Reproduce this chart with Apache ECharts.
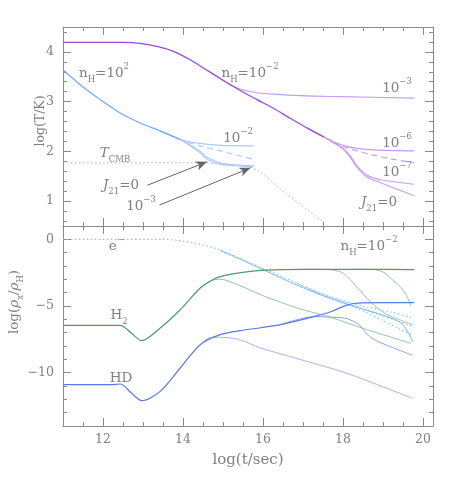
<!DOCTYPE html>
<html><head><meta charset="utf-8">
<script src="https://cdn.jsdelivr.net/npm/echarts@6/dist/echarts.min.js"></script>
<style>html,body{margin:0;padding:0;background:#fff}#c{width:457px;height:478px}</style>
</head><body><div id="c"></div>
<script>
// ---------- tick labels ----------
const xMajorTicks = [12, 14, 16, 18, 20];
const tMajorTicks = [1, 2, 3, 4];
const rMajorTicks = [0, -5, -10];

// ---------- top panel: log(T/K) ----------
// n_H = 1e-2 (violet)
const vMain = [[11,4.19],[12.5,4.19],[12.93,4.17],[13.4,4.1],[13.76,4.01],[14.18,3.84],[14.6,3.63],[15.02,3.42],[15.44,3.22],[15.85,3.04],[16.27,2.86],[16.69,2.66],[17.1,2.47],[17.52,2.29]];
const vJ3   = [[14.6,3.63],[15.02,3.42],[15.2,3.33],[15.44,3.25],[15.85,3.18],[16.27,3.15],[16.94,3.12],[17.94,3.1],[19.78,3.07]];
const vJ6   = [[17.1,2.47],[17.52,2.29],[17.8,2.18],[18.1,2.1],[18.36,2.06],[18.78,2.03],[19.78,2.01]];
const vDash = [[17.1,2.47],[17.52,2.29],[17.8,2.17],[18.1,2.07],[18.36,2.01],[18.78,1.92],[19.2,1.85],[19.78,1.77]];
const vJ7   = [[17.1,2.47],[17.52,2.29],[17.77,2.18],[18.02,2.05],[18.19,1.9],[18.36,1.7],[18.61,1.52],[18.94,1.43],[19.78,1.34]];
const vJ0   = [[17.1,2.47],[17.52,2.29],[17.77,2.17],[18.02,2.03],[18.19,1.87],[18.36,1.67],[18.61,1.48],[18.94,1.37],[19.36,1.24],[19.78,1.11]];
// n_H = 1e2 (blue)
const bMain = [[11,3.64],[11.43,3.34],[11.93,3.04],[12.43,2.77],[12.93,2.57],[13.43,2.41],[13.93,2.24]];
const bJ2   = [[13.43,2.41],[13.93,2.24],[14.43,2.16],[14.93,2.12],[15.77,2.11]];
const bDash = [[13.43,2.41],[13.93,2.24],[14.43,2.11],[14.93,2.01],[15.77,1.84]];
const bJ0   = [[13.43,2.41],[13.93,2.24],[14.1,2.15],[14.43,1.97],[14.6,1.84],[14.93,1.74],[15.3,1.71],[15.77,1.69]];
const bJ3   = [[13.43,2.41],[13.93,2.24],[14.1,2.17],[14.43,2.0],[14.6,1.88],[14.93,1.77],[15.3,1.73],[15.77,1.71]];
const tCMB  = [[11,1.77],[14.5,1.77],[15.0,1.74],[15.77,1.66],[16.5,1.2],[17.48,0.6]];
const arrows = [[[13.11,1.32],[14.6,1.79]],[[13.41,0.92],[15.69,1.67]]];

// ---------- bottom panel: log(rho_x/rho_H) ----------
const eDot1 = [[11,0],[13.5,0],[13.9,-0.1],[14.27,-0.28],[14.6,-0.5],[14.93,-0.8],[15.44,-1.45],[16.02,-2.2],[16.86,-3.3],[17.69,-4.3],[18.5,-5.0],[19.2,-5.45],[19.75,-5.9]];
const eDot2 = [[16.86,-3.3],[17.2,-3.8],[18,-4.65],[18.8,-5.55],[19.3,-6.05],[19.75,-6.55]];
const eDot3 = [[17.2,-3.8],[17.6,-4.3],[18.3,-5.1],[19.0,-6.1],[19.4,-6.7],[19.75,-7.2]];
const eSolid = [[14.93,-0.85],[15.44,-1.5],[16.02,-2.3],[16.86,-3.45],[17.69,-4.45],[18.2,-4.95],[18.8,-5.5],[19.2,-5.9],[19.5,-6.4],[19.75,-7.7]];
const h2Main = [[11,-6.45],[12.43,-6.45],[12.7,-7.0],[12.97,-7.6],[13.43,-6.65],[13.93,-5.28],[14.43,-3.65],[14.7,-3.1],[14.93,-2.8],[15.44,-2.5],[15.94,-2.33],[16.5,-2.27],[17.5,-2.25],[18.5,-2.25],[19.78,-2.27]];
const h2Low  = [[14.43,-3.65],[14.7,-3.1],[14.95,-3.0],[15.2,-3.2],[15.6,-3.7],[16.02,-4.25],[16.86,-5.15],[17.69,-5.85],[18.52,-6.7],[19.7,-7.8]];
const h2DropA = [[17.0,-2.25],[17.5,-2.25],[17.9,-2.4],[18.1,-2.78],[18.52,-4.15],[18.78,-4.95],[19.11,-5.65],[19.74,-6.4]];
const h2DropB = [[18.2,-2.25],[18.7,-2.25],[19.0,-2.45],[19.19,-2.9],[19.53,-3.9],[19.7,-5.0]];
const hdMain = [[11,-10.9],[12.2,-10.9],[12.43,-10.85],[12.7,-11.5],[12.97,-12.1],[13.43,-11.4],[13.93,-9.65],[14.43,-7.9],[14.93,-7.15],[15.44,-6.85],[15.94,-6.63],[16.44,-6.4],[17.27,-5.8],[17.69,-5.43],[18.1,-4.93],[18.36,-4.78],[19.0,-4.75],[19.78,-4.75]];
const hdDrop = [[16.44,-6.4],[17.27,-5.8],[17.8,-5.85],[18.1,-5.95],[18.4,-6.4],[18.6,-7.1],[18.8,-7.55],[19.1,-7.95],[19.74,-8.7]];
const hdLow  = [[14.43,-7.9],[14.7,-7.35],[15.0,-7.35],[15.44,-7.55],[15.94,-8.15],[16.86,-8.95],[18.1,-10.05],[19.74,-11.93]];

// ---------- styling ----------
const XMIN = 11, XMAX = 20.25;
const FRAME = '#8a8a8a';
const TXT = '#808080';
const FONT = 'DejaVu Serif';
function range(a, b, s) { const r = []; for (let v = a; v <= b + 1e-9; v += s) r.push(+v.toFixed(3)); return r; }
const xMinor = range(11.5, 20, 0.5);
const tMinor = range(0.6, 4.4, 0.2);
const rMinor = range(-13, 0, 1);
const fmt = v => (v < 0 ? '\u2212' + (-v) : '' + v);

function xAxes(grid, pos, labels) {
  return [
    {type:'value', gridIndex:grid, position:pos, min:XMIN, max:XMAX,
     axisLine:{show:true, onZero:false, lineStyle:{color:FRAME, width:1}},
     axisTick:{show:true, inside:true, length:4, customValues:xMinor, lineStyle:{color:FRAME}},
     axisLabel:{show:false}, splitLine:{show:false}},
    {type:'value', gridIndex:grid, position:pos, min:XMIN, max:XMAX,
     axisLine:{show:false, onZero:false},
     axisTick:{show:true, inside:true, length:8, customValues:xMajorTicks, lineStyle:{color:FRAME}},
     axisLabel:{show:labels, customValues:xMajorTicks, formatter:fmt, color:TXT, fontFamily:FONT, fontSize:12.5, margin:7},
     splitLine:{show:false}}
  ];
}
function yAxes(grid, pos, min, max, minor, major, labels) {
  return [
    {type:'value', gridIndex:grid, position:pos, min:min, max:max,
     axisLine:{show:true, onZero:false, lineStyle:{color:FRAME, width:1}},
     axisTick:{show:true, inside:true, length:4, customValues:minor, lineStyle:{color:FRAME}},
     axisLabel:{show:false}, splitLine:{show:false}},
    {type:'value', gridIndex:grid, position:pos, min:min, max:max,
     axisLine:{show:false, onZero:false},
     axisTick:{show:true, inside:true, length:8, customValues:major, lineStyle:{color:FRAME}},
     axisLabel:{show:labels, customValues:major, formatter:fmt, color:TXT, fontFamily:FONT, fontSize:12.5, margin:9},
     splitLine:{show:false}}
  ];
}

const xAxis = [].concat(xAxes(0,'bottom',false), xAxes(0,'top',false), xAxes(1,'bottom',true), xAxes(1,'top',false));
const yAxis = [].concat(yAxes(0,'left',0.5,4.5,tMinor,tMajorTicks,true), yAxes(0,'right',0.5,4.5,tMinor,tMajorTicks,false),
                        yAxes(1,'left',-14,1,rMinor,rMajorTicks,true), yAxes(1,'right',-14,1,rMinor,rMajorTicks,false));

function ln(data, grid, color, width, type, z) {
  return {type:'line', data:data, xAxisIndex: grid === 0 ? 1 : 5, yAxisIndex: grid === 0 ? 1 : 5,
    showSymbol:false, symbol:'none', smooth:0.3, silent:true, animation:false, z:z || 2,
    lineStyle:{color:color, width:width, type:type || 'solid'}};
}
const VIOLET = '#9a45e6', VLIGHT = '#c79af3';
const BLUE = '#6ea9fb', BLIGHT = '#aac8fb';
const GREEN = '#4f9a70', GLIGHT = '#93c6a8';
const HDB = '#5a78ee', HDL = '#a9b3f3';
const EB = '#7cc0ff';

const series = [
  ln(vJ3, 0, VLIGHT, 1.1), ln(vJ6, 0, VLIGHT, 1.1), ln(vDash, 0, VLIGHT, 1.1, [6,4]),
  ln(vJ7, 0, VLIGHT, 1.1), ln(vJ0, 0, VLIGHT, 1.1), ln(vMain, 0, VIOLET, 1.2, 'solid', 3),
  ln(tCMB, 0, '#8fb0ff', 1, [1.5,2.5]),
  ln(bJ2, 0, BLIGHT, 1.1), ln(bDash, 0, BLIGHT, 1.1, [6,4]), ln(bJ0, 0, BLIGHT, 1.1), ln(bJ3, 0, BLIGHT, 1.1),
  ln(bMain, 0, BLUE, 1.2, 'solid', 3),
  {type:'line', data:[], xAxisIndex:1, yAxisIndex:1, silent:true, animation:false,
   markLine:{silent:true, animation:false, symbol:['none','arrow'], symbolSize:[7,11], label:{show:false},
     lineStyle:{color:'#666', width:1, type:'solid'},
     data: arrows.map(a => [{coord:a[0]}, {coord:a[1]}])}},
  ln(eDot1, 1, EB, 1.1, [1.5,2.5]), ln(eDot2, 1, EB, 1.1, [1.5,2.5]), ln(eDot3, 1, EB, 1.1, [1.5,2.5]),
  ln(eSolid, 1, '#78b8fa', 1),
  ln(h2Low, 1, GLIGHT, 1), ln(h2DropA, 1, GLIGHT, 1), ln(h2DropB, 1, GLIGHT, 1), ln(h2Main, 1, GREEN, 1.2, 'solid', 3),
  ln(hdLow, 1, HDL, 1), ln(hdDrop, 1, '#8fa0f2', 1), ln(hdMain, 1, HDB, 1.2, 'solid', 3)
];

function mkRich(size) {
  return {
    t:{fontFamily:FONT, fontSize:size, fill:TXT, lineHeight:22, verticalAlign:'middle'},
    i:{fontFamily:FONT, fontSize:size, fill:TXT, lineHeight:22, verticalAlign:'middle', fontStyle:'italic'},
    s:{fontFamily:FONT, fontSize:8.5, fill:TXT, lineHeight:13, verticalAlign:'bottom'},
    p:{fontFamily:FONT, fontSize:8.5, fill:TXT, lineHeight:13, verticalAlign:'top'},
    m:{fontFamily:FONT, fontSize:10, fill:TXT, lineHeight:13, verticalAlign:'top'}
  };
}
function txt(x, y, text, rot, size) {
  return {type:'text', x:x, y:y, rotation: rot || 0, silent:true,
    style:{text:text, rich:mkRich(size || 13.5), fill:TXT, align:'center', verticalAlign:'middle'}};
}
const graphics = [
  txt(104, 73, '{t|n}{s|H}{t|=10}{p|2}'),
  txt(250, 73, '{t|n}{s|H}{t|=10}{p|\u22122}'),
  txt(397, 88, '{t|10}{p|\u22123}'),
  txt(397, 143, '{t|10}{p|\u22126}'),
  txt(397, 172, '{t|10}{p|\u22127}'),
  txt(379, 202, '{i|J}{s|21}{t|=0}'),
  txt(238, 138, '{t|10}{p|\u22122}'),
  txt(115, 153, '{i|T}{s|CMB}'),
  txt(121, 185, '{i|J}{s|21}{t|=0}'),
  txt(141, 206, '{t|10}{p|\u22123}'),
  txt(117, 246, '{t|e}{m|\u2212}'),
  txt(119, 315, '{t|H}{s|2}'),
  txt(121, 378, '{t|HD}'),
  txt(369, 246, '{t|n}{s|H}{t|=10}{p|\u22122}'),
  txt(248, 460, '{t|log(t/sec)}', 0, 15),
  txt(41, 121, '{t|log(T/K)}', Math.PI/2, 12.5),
  txt(14, 302, '{t|log(}{i|\u03c1}{s|x}{t|/}{i|\u03c1}{s|H}{t|)}', Math.PI/2, 13.5)
];

const chart = echarts.init(document.getElementById('c'), null, {renderer:'canvas'});
chart.setOption({
  animation:false,
  backgroundColor:'#fff',
  grid:[{left:63, right:24, top:27, height:199}, {left:63, right:24, top:226, height:200}],
  xAxis:xAxis, yAxis:yAxis, series:series, graphic:graphics
});
</script></body></html>
